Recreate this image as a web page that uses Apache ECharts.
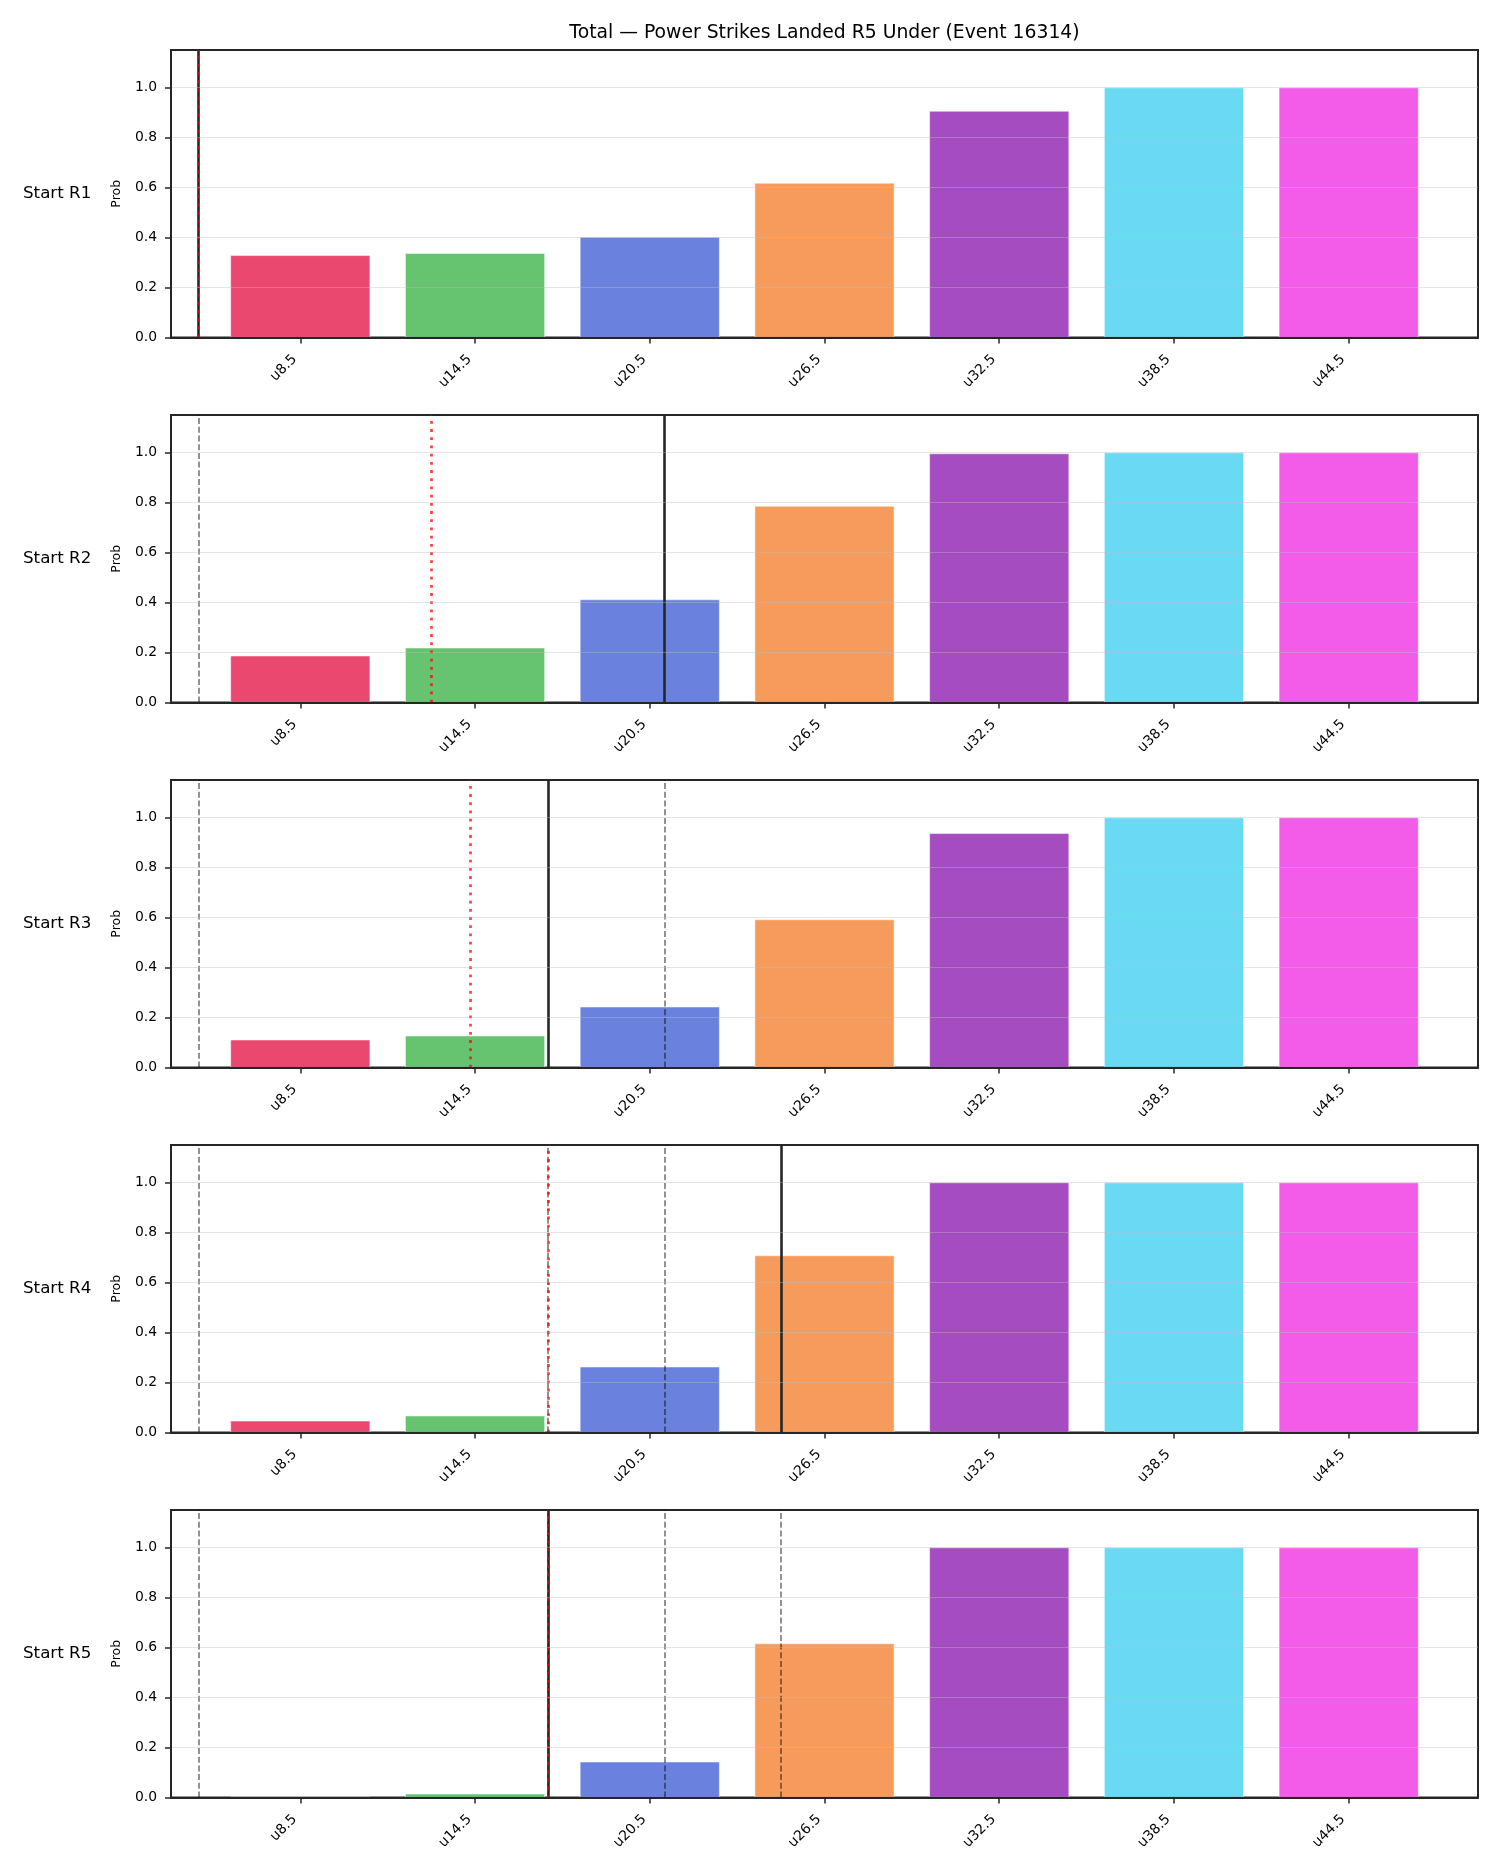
<!DOCTYPE html>
<html>
<head>
<meta charset="utf-8">
<script src="https://cdn.jsdelivr.net/npm/echarts@6/dist/echarts.min.js"></script>
<style>
  html, body { margin: 0; padding: 0; background: #ffffff; }
  #chart { width: 1500px; height: 1875px; }
</style>
</head>
<body>
<div id="chart"></div>
<script>
// ---------------- data ----------------
const chartTitle = 'Total \u2014 Power Strikes Landed R5 Under (Event 16314)';
const thresholds = [8.5, 14.5, 20.5, 26.5, 32.5, 38.5, 44.5];
const categories = ['u8.5', 'u14.5', 'u20.5', 'u26.5', 'u32.5', 'u38.5', 'u44.5'];
const roundLabels = ['Start R1', 'Start R2', 'Start R3', 'Start R4', 'Start R5'];
const probR1 = [0.329, 0.337, 0.402, 0.618, 0.906, 1.0, 1.0];
const probR2 = [0.187, 0.219, 0.412, 0.786, 0.996, 1.0, 1.0];
const probR3 = [0.111, 0.127, 0.243, 0.592, 0.937, 1.0, 1.0];
const probR4 = [0.047, 0.067, 0.263, 0.708, 1.0, 1.0, 1.0];
const probR5 = [0.003, 0.015, 0.143, 0.616, 1.0, 1.0, 1.0];
const currentMark = [5, 21, 17, 25, 17];        // solid dark line per panel
const projectedMark = [5, 13, 14.33, 17, 17];   // red dotted line per panel
const yTicks = [0, 0.2, 0.4, 0.6, 0.8, 1.0];
const barColors = [
  'rgba(230,26,76,0.8)', 'rgba(64,180,75,0.8)', 'rgba(69,99,212,0.8)',
  'rgba(244,130,51,0.8)', 'rgba(143,31,176,0.8)', 'rgba(69,209,241,0.8)',
  'rgba(239,51,226,0.8)'
];
const allProbs = [probR1, probR2, probR3, probR4, probR5];

// ---------------- layout ----------------
const FONT = 'DejaVu Sans';
const gridLeft = 171, gridWidth = 1307, gridTop0 = 50, gridStep = 365, gridHeight = 287.5;
const barFrac = 0.8;
const step = thresholds[1] - thresholds[0];
const lo = thresholds[0] - step * barFrac / 2, hi = thresholds[thresholds.length - 1] + step * barFrac / 2;
const margin = (hi - lo) * 0.05;
const xMin = lo - margin, xMax = hi + margin;
const spineColor = '#262626';

const chart = echarts.init(document.getElementById('chart'), null, { renderer: 'canvas' });

const grids = [], xAxes = [], yAxes = [], series = [], graphics = [];
allProbs.forEach((probs, i) => {
  const top = gridTop0 + i * gridStep;
  grids.push({ left: gridLeft, top: top, width: gridWidth, height: gridHeight,
    show: true, borderColor: spineColor, borderWidth: 2, backgroundColor: 'transparent', containLabel: false });
  xAxes.push({
    type: 'value', gridIndex: i, min: xMin, max: xMax, z: 10,
    axisLine: { show: true, onZero: false, lineStyle: { color: spineColor, width: 2 } },
    axisTick: { show: true, customValues: thresholds, length: 6, lineStyle: { color: spineColor, width: 1.5 } },
    axisLabel: { show: true, customValues: thresholds, rotate: 45, margin: 14, padding: [0, 8, 0, 0],
      fontFamily: FONT, fontSize: 13.9, color: '#000',
      formatter: v => categories[thresholds.indexOf(v)] },
    splitLine: { show: false }
  });
  yAxes.push({
    type: 'value', gridIndex: i, min: 0, max: 1.15, z: 10,
    name: 'Prob', nameLocation: 'middle', nameRotate: 90, nameGap: 48,
    nameTextStyle: { fontFamily: FONT, fontSize: 12.5, color: '#000' },
    axisLine: { show: true, lineStyle: { color: spineColor, width: 2 } },
    axisTick: { show: true, customValues: yTicks, length: 6, lineStyle: { color: spineColor, width: 1.5 } },
    axisLabel: { show: true, customValues: yTicks, margin: 14, fontFamily: FONT, fontSize: 13.9, color: '#000',
      formatter: v => v.toFixed(1) },
    splitLine: { show: true, lineStyle: { color: 'rgba(190,190,190,0.4)', width: 1 } }
  });
  const marks = [];
  currentMark.slice(0, i).forEach(v => marks.push({ xAxis: v,
    lineStyle: { color: 'rgba(0,0,0,0.5)', width: 1.7, type: [6, 2.7] } }));
  marks.push({ xAxis: currentMark[i], lineStyle: { color: '#262626', width: 2.6, type: 'solid' } });
  marks.push({ xAxis: projectedMark[i], lineStyle: { color: 'rgba(255,0,0,0.75)', width: 2.7, type: [2.8, 5.4] } });
  series.push({
    type: 'bar', xAxisIndex: i, yAxisIndex: i, barWidth: (barFrac * 100) + '%',
    data: probs.map((p, k) => ({ value: [thresholds[k], p], itemStyle: { color: barColors[k] } })),
    itemStyle: { borderColor: 'rgba(255,255,255,0.8)', borderWidth: 0.6 },
    markLine: { silent: true, symbol: ['none', 'none'], label: { show: false }, animation: false, data: marks }
  });
  graphics.push({ type: 'text', x: 23, y: top + gridHeight / 2,
    style: { text: roundLabels[i], fontFamily: FONT, fontSize: 16.7, fill: '#000',
      align: 'left', verticalAlign: 'middle', textAlign: 'left', textVerticalAlign: 'middle' } });
});

chart.setOption({
  animation: false,
  backgroundColor: '#ffffff',
  title: { text: chartTitle, left: gridLeft + gridWidth / 2 - 5, top: 19, textAlign: 'center',
    textStyle: { fontFamily: FONT, fontSize: 18.8, fontWeight: 'normal', color: '#000' } },
  grid: grids, xAxis: xAxes, yAxis: yAxes, series: series, graphic: graphics
});
</script>
</body>
</html>
